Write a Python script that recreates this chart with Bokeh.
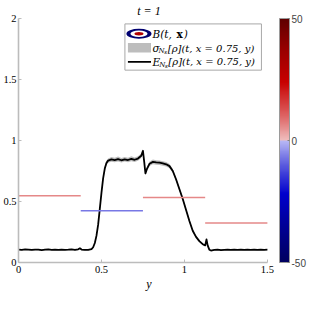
import numpy as np
from bokeh.plotting import figure
from bokeh.models import (ColumnDataSource, LinearColorMapper, ColorBar,
                          FixedTicker, Range1d)
from bokeh.core.properties import value
from bokeh.transform import transform
from bokeh.embed import file_html
from bokeh.resources import INLINE

# ---------------- data ----------------
y_pts = [0.00, 0.02, 0.04, 0.06, 0.08, 0.10, 0.12, 0.14, 0.16, 0.18,
         0.20, 0.22, 0.24, 0.26, 0.28, 0.30, 0.32, 0.34, 0.36, 0.37,
         0.38, 0.40, 0.42, 0.44, 0.45, 0.46, 0.47, 0.48, 0.49, 0.50,
         0.51, 0.52, 0.53, 0.54, 0.56, 0.58, 0.60, 0.62, 0.64, 0.66,
         0.68, 0.70, 0.72, 0.74, 0.75, 0.758, 0.765, 0.775, 0.79, 0.81,
         0.83, 0.85, 0.87, 0.89, 0.91, 0.93, 0.95, 0.97, 0.99, 1.01,
         1.03, 1.05, 1.07, 1.09, 1.11, 1.125, 1.133, 1.14, 1.15, 1.16,
         1.18, 1.20, 1.22, 1.24, 1.26, 1.28, 1.30, 1.32, 1.34, 1.36,
         1.38, 1.40, 1.42, 1.44, 1.46, 1.48, 1.50]
e_pts = [0.106, 0.104, 0.107, 0.105, 0.103, 0.106, 0.105, 0.102, 0.105, 0.107,
         0.104, 0.105, 0.103, 0.106, 0.104, 0.105, 0.107, 0.104, 0.108, 0.116,
         0.106, 0.103, 0.104, 0.110, 0.125, 0.160, 0.220, 0.310, 0.440, 0.570,
         0.690, 0.770, 0.815, 0.835, 0.845, 0.840, 0.848, 0.838, 0.846, 0.840,
         0.850, 0.842, 0.852, 0.875, 0.915, 0.820, 0.730, 0.770, 0.810, 0.825,
         0.820, 0.818, 0.812, 0.805, 0.790, 0.750, 0.680, 0.600, 0.520, 0.430,
         0.340, 0.260, 0.210, 0.175, 0.150, 0.140, 0.190, 0.140, 0.105, 0.098,
         0.103, 0.105, 0.102, 0.104, 0.106, 0.103, 0.105, 0.104, 0.106, 0.103,
         0.105, 0.104, 0.106, 0.103, 0.105, 0.104, 0.105]
s_pts = [0.004, 0.004, 0.004, 0.004, 0.004, 0.004, 0.004, 0.004, 0.004, 0.004,
         0.004, 0.004, 0.004, 0.004, 0.004, 0.004, 0.004, 0.004, 0.005, 0.006,
         0.005, 0.004, 0.004, 0.005, 0.006, 0.008, 0.010, 0.012, 0.014, 0.015,
         0.016, 0.017, 0.018, 0.018, 0.019, 0.018, 0.020, 0.018, 0.019, 0.018,
         0.020, 0.018, 0.019, 0.018, 0.016, 0.015, 0.014, 0.016, 0.018, 0.019,
         0.018, 0.019, 0.018, 0.018, 0.017, 0.016, 0.015, 0.014, 0.013, 0.012,
         0.011, 0.010, 0.009, 0.008, 0.007, 0.007, 0.008, 0.007, 0.005, 0.004,
         0.004, 0.004, 0.004, 0.004, 0.004, 0.004, 0.004, 0.004, 0.004, 0.004,
         0.004, 0.004, 0.004, 0.004, 0.004, 0.004, 0.004]

seg_start = [0.0, 0.375, 0.75, 1.125]
seg_end = [0.375, 0.75, 1.125, 1.5]
seg_level = [0.547, 0.424, 0.533, 0.324]
seg_b = [6.0, -7.0, 6.0, 6.0]

x_ticks = [0, 0.5, 1, 1.5]
x_tick_labels = ["0", "0.5", "1", "1.5"]
y_ticks = [0, 0.5, 1, 1.5, 2]
y_tick_labels = ["0", "0.5", "1", "1.5", "2"]
cbar_ticks = [-50, 0, 50]
cbar_tick_labels = ["-50", "0", "50"]
b_low, b_high = -50, 50

title_text = "t = 1"
x_label = "y"
leg_b = ["B(t, ", "x", ")"]
leg_sigma = ["\u03c3", "N", "s", "[\u03c1](t, x = 0.75, y)"]
leg_e = ["E", "N", "s", "[\u03c1](t, x = 0.75, y)"]

# ---------------- colour map ----------------
neg_vals = [-50, -35, -22, -10, 0]
neg_cols = [(0, 0, 95), (0, 0, 150), (0, 0, 205), (90, 90, 222), (185, 185, 245)]
pos_vals = [0, 10, 24, 38, 50]
pos_cols = [(240, 190, 190), (222, 100, 100), (200, 0, 0), (150, 0, 0), (95, 0, 0)]


def _interp(v, vals, cols):
    return tuple(int(round(np.interp(v, vals, [c[k] for c in cols]))) for k in range(3))


palette = []
n_pal = 256
for i in range(n_pal):
    v = b_low + (b_high - b_low) * (i + 0.5) / n_pal
    rgb = _interp(v, neg_vals, neg_cols) if v < 0 else _interp(v, pos_vals, pos_cols)
    palette.append("#%02x%02x%02x" % rgb)

mapper = LinearColorMapper(palette=palette, low=b_low, high=b_high)

# ---------------- figure ----------------
X_END = 1.573
p = figure(width=308, height=293, output_backend="svg", toolbar_location=None,
           x_range=Range1d(0, X_END), y_range=Range1d(0, 2),
           min_border_left=13, min_border_right=27, min_border_top=0,
           min_border_bottom=0)
p.outline_line_color = None
p.xgrid.visible = False
p.ygrid.visible = False
p.background_fill_color = "white"
p.border_fill_color = "white"

p.title.text = title_text
p.title.align = "center"
p.title.text_font = "Liberation Serif"
p.title.text_font_style = "italic"
p.title.text_font_size = "12px"
p.title.text_color = "black"
p.title.standoff = 2
p.title.offset = 0

axis_gray = "#bcbcbc"
for ax in (p.xaxis[0], p.yaxis[0]):
    ax.axis_line_color = axis_gray
    ax.axis_line_width = 1.6
    ax.major_tick_line_color = axis_gray
    ax.major_tick_in = 3
    ax.major_tick_out = 0
    ax.minor_tick_line_color = None
    ax.major_label_text_font = "Liberation Serif"
    ax.major_label_text_font_size = "10.5px"
    ax.major_label_text_color = "black"

p.xaxis.ticker = FixedTicker(ticks=x_ticks)
p.xaxis.major_label_overrides = {t: l for t, l in zip(x_ticks, x_tick_labels)}
p.xaxis.bounds = (x_ticks[0], x_ticks[-1])
p.xaxis.major_label_standoff = 3
p.xaxis.axis_label = x_label
p.xaxis.axis_label_text_font = "Liberation Serif"
p.xaxis.axis_label_text_font_style = "italic"
p.xaxis.axis_label_text_font_size = "12px"
p.xaxis.axis_label_text_color = "black"
p.xaxis.axis_label_standoff = 1

p.yaxis.ticker = FixedTicker(ticks=y_ticks)
p.yaxis.major_label_overrides = {t: l for t, l in zip(y_ticks, y_tick_labels)}
p.yaxis.major_label_standoff = 2

# sigma band
e_arr = np.array(e_pts)
s_arr = np.array(s_pts)
p.varea(x=y_pts, y1=list(e_arr - s_arr), y2=list(e_arr + s_arr),
        fill_color="#bdbdbd", fill_alpha=1.0)
# expectation line
p.line(y_pts, e_pts, line_color="black", line_width=1.8, line_join="round")

# B(t,x) piecewise segments, coloured via the colour map
seg_src = ColumnDataSource(dict(x0=seg_start, x1=seg_end, lvl=seg_level, b=seg_b))
p.segment(x0="x0", y0="lvl", x1="x1", y1="lvl", source=seg_src,
          line_color=transform("b", mapper), line_width=1.6)

# ---------------- manual legend (layout in pixel offsets) ----------------
PX0, PY0 = 19.0, 264.0
SX = 260.0 / X_END
SY = (264.0 - 16.0) / 2.0
SHIFT = -9.0


def dx(px):
    return (px + SHIFT - PX0) / SX


def dy(py):
    return (PY0 - py) / SY


p.quad(left=[dx(134)], right=[dx(270)], top=[dy(21.5)], bottom=[dy(68.5)],
       fill_color="white", line_color="#a8a8a8", line_width=1)
# ellipse icon for B
p.ellipse(x=[dx(148)] * 3, y=[dy(31.5)] * 3,
          width=[25 / SX, 17 / SX, 9 / SX], height=[10 / SY, 6.5 / SY, 3.5 / SY],
          fill_color=["#000070", "white", "#b00000"], line_color=None)
# grey patch for sigma
p.quad(left=[dx(137)], right=[dx(160)], top=[dy(41)], bottom=[dy(50.5)],
       fill_color="#bdbdbd", line_color=None)
# black line for E
p.segment(x0=[dx(137)], y0=[dy(60)], x1=[dx(160)], y1=[dy(60)],
          line_color="black", line_width=1.8)

lf = value("DejaVu Serif")
# row 1
p.text(x=[dx(161.5)], y=[dy(31.5)], text=[leg_b[0]], text_font=lf,
       text_font_style="italic", text_font_size="10.5px", text_baseline="middle")
p.text(x=[dx(185.5)], y=[dy(31.5)], text=[leg_b[1]], text_font=lf,
       text_font_style="bold", text_font_size="10.5px", text_baseline="middle")
p.text(x=[dx(192.5)], y=[dy(31.5)], text=[leg_b[2]], text_font=lf,
       text_font_style="italic", text_font_size="10.5px", text_baseline="middle")
# row 2 (sigma) and row 3 (E)
for row_y, parts, x_main, x_n, x_s, x_rest in (
        (46.0, leg_sigma, 161.5, 167.5, 173.2, 176.7),
        (60.0, leg_e, 161.5, 168.3, 174.0, 177.3)):
    p.text(x=[dx(x_main)], y=[dy(row_y)], text=[parts[0]], text_font=lf,
           text_font_style="italic", text_font_size="10.5px", text_baseline="middle")
    p.text(x=[dx(x_n)], y=[dy(row_y + 3.0)], text=[parts[1]], text_font=lf,
           text_font_style="italic", text_font_size="7px", text_baseline="middle")
    p.text(x=[dx(x_s)], y=[dy(row_y + 4.5)], text=[parts[2]], text_font=lf,
           text_font_style="italic", text_font_size="5.5px", text_baseline="middle")
    p.text(x=[dx(x_rest)], y=[dy(row_y)], text=[parts[3]], text_font=lf,
           text_font_style="italic", text_font_size="10px", text_baseline="middle")

# colour bar
cb = ColorBar(color_mapper=mapper, ticker=FixedTicker(ticks=cbar_ticks),
              major_label_overrides={t: l for t, l in zip(cbar_ticks, cbar_tick_labels)},
              width=10, padding=0, margin=0, label_standoff=2,
              major_label_text_font="Liberation Sans",
              major_label_text_font_size="10px",
              major_tick_in=2, major_tick_out=0, major_tick_line_color="#808080",
              bar_line_color="#9a9a9a", bar_line_width=1,
              border_line_color=None, background_fill_color=None)
p.add_layout(cb, "right")

open("out.html", "w").write(file_html(p, INLINE))
